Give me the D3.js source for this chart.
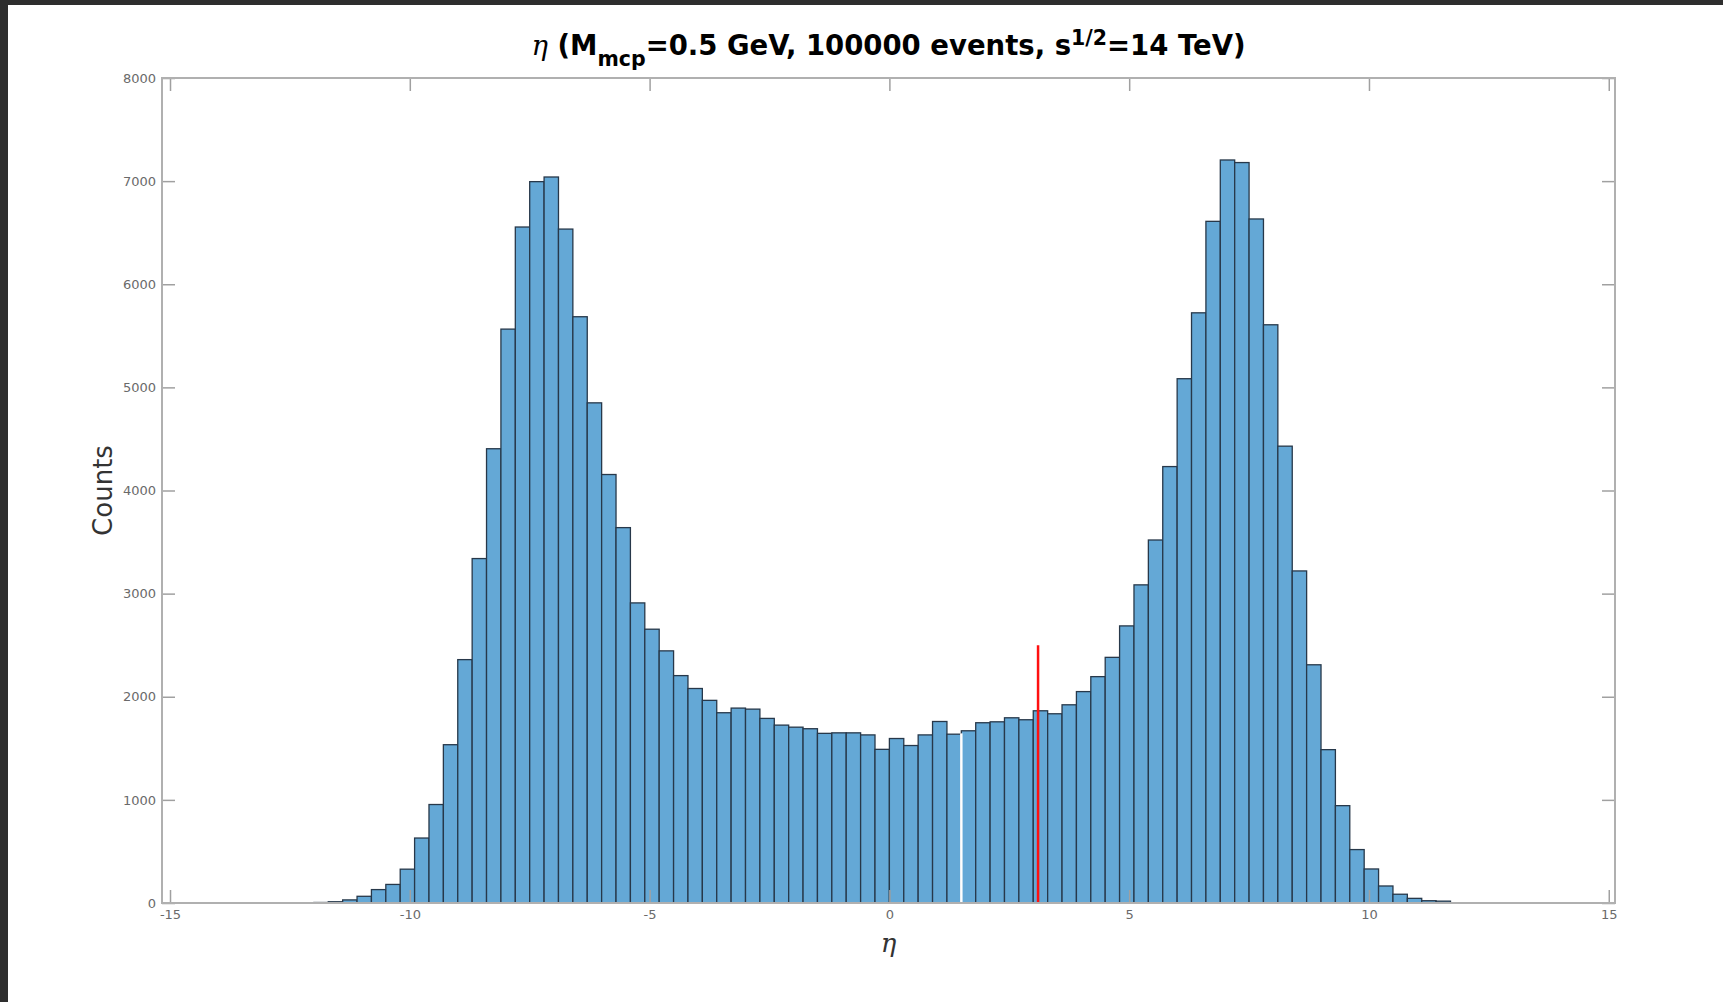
<!DOCTYPE html>
<meta charset="utf-8">
<title>eta histogram</title>
<style>
  body { margin: 0; background: #fff; }
  svg { display: block; }
</style>
<body>
<svg width="1723" height="1002"></svg>
<script src="https://d3js.org/d3.v7.min.js"></script>
<script>

// histogram: first bin edge and bin width (eta units)
var binStart = -12.0,
    binWidth = 0.3;

// counts per bin, left to right
var counts = [
  5, 12, 30, 65, 130, 180, 328, 630, 955, 1535,
  2360, 3340, 4405, 5565, 6555, 6995, 7040, 6535, 5685, 4850,
  4155, 3640, 2910, 2655, 2445, 2205, 2080, 1965, 1845, 1890,
  1880, 1790, 1725, 1705, 1690, 1645, 1650, 1650, 1630, 1490,
  1595, 1527, 1630, 1760, 1637, 1670, 1748, 1757, 1796, 1777,
  1864, 1835, 1922, 2050, 2195, 2382, 2687, 3085, 3520, 4232,
  5084, 5723, 6610, 7205, 7180, 6633, 5607, 4430, 3220, 2310,
  1487, 944, 518, 330, 165, 85, 45, 22, 18
];

// marker lines: [eta, height]
var whiteLine = [1.5, 1645];
var redLine = [3.1, 2500];

var xTicks = [-15, -10, -5, 0, 5, 10, 15];
var yTicks = [0, 1000, 2000, 3000, 4000, 5000, 6000, 7000, 8000];

var svg = d3.select("svg");

// dark frame at top and left
svg.append("rect").attr("x", 0).attr("y", 0).attr("width", 1723).attr("height", 5).attr("fill", "#2e2e2e");
svg.append("rect").attr("x", 0).attr("y", 0).attr("width", 8).attr("height", 1002).attr("fill", "#2e2e2e");

var pLeft = 162, pRight = 1615, pTop = 78, pBottom = 903;

var x = d3.scaleLinear()
    .domain([-15.167, 15.13])
    .range([pLeft, pRight]);

var y = d3.scaleLinear()
    .domain([0, 8000])
    .range([pBottom, pTop]);

// bars
svg.append("g")
  .selectAll("rect")
  .data(counts)
  .enter().append("rect")
    .attr("x", function(d, i) { return x(binStart + i * binWidth); })
    .attr("width", function(d, i) { return x(binStart + (i + 1) * binWidth) - x(binStart + i * binWidth); })
    .attr("y", function(d) { return y(d); })
    .attr("height", function(d) { return y(0) - y(d); })
    .attr("fill", "#64a8d6")
    .attr("stroke", "#27384a")
    .attr("stroke-width", 1.3);

// marker lines
svg.append("line")
    .attr("x1", x(whiteLine[0])).attr("x2", x(whiteLine[0]))
    .attr("y1", y(0)).attr("y2", y(whiteLine[1]))
    .attr("stroke", "#ffffff").attr("stroke-width", 2.5);

svg.append("line")
    .attr("x1", x(redLine[0])).attr("x2", x(redLine[0]))
    .attr("y1", y(0)).attr("y2", y(redLine[1]))
    .attr("stroke", "#ff1010").attr("stroke-width", 2.5);

// axes, ticks pointing inward
function styleAxis(g) {
  g.select(".domain").remove();
  g.selectAll(".tick line").attr("stroke", "#a0a0a0").attr("stroke-width", 1.5);
  g.selectAll(".tick text")
    .attr("fill", "#6a6a6a")
    .style("font-family", "DejaVu Sans")
    .style("font-size", "13px");
}

svg.append("g")
    .attr("transform", "translate(0," + pBottom + ")")
    .call(d3.axisBottom(x).tickValues(xTicks).tickSize(-13).tickPadding(7).tickFormat(function(d) { return String(d); }))
    .call(styleAxis);

svg.append("g")
    .attr("transform", "translate(0," + pTop + ")")
    .call(d3.axisTop(x).tickValues(xTicks).tickSize(-13).tickFormat(""))
    .call(styleAxis);

svg.append("g")
    .attr("transform", "translate(" + pLeft + ",0)")
    .call(d3.axisLeft(y).tickValues(yTicks).tickSize(-13).tickPadding(6).tickFormat(function(d) { return String(d); }))
    .call(styleAxis);

svg.append("g")
    .attr("transform", "translate(" + pRight + ",0)")
    .call(d3.axisRight(y).tickValues(yTicks).tickSize(-13).tickFormat(""))
    .call(styleAxis);

// box
svg.append("rect")
    .attr("x", pLeft).attr("y", pTop)
    .attr("width", pRight - pLeft).attr("height", pBottom - pTop)
    .attr("fill", "none")
    .attr("stroke", "#b0b0b0")
    .attr("stroke-width", 2);

// title
var title = svg.append("text")
    .attr("x", (pLeft + pRight) / 2)
    .attr("y", 55)
    .attr("text-anchor", "middle")
    .style("font-family", "DejaVu Sans")
    .style("font-weight", "bold")
    .style("font-size", "27.5px")
    .attr("fill", "#000");
title.append("tspan").style("font-family", "DejaVu Serif").style("font-style", "italic").style("font-weight", "normal").text("η");
title.append("tspan").text(" (M");
title.append("tspan").attr("dy", 11).style("font-size", "20.5px").text("mcp");
title.append("tspan").attr("dy", -11).text("=0.5 GeV, 100000 events, s");
title.append("tspan").attr("dy", -10).style("font-size", "20.5px").text("1/2");
title.append("tspan").attr("dy", 10).text("=14 TeV)");

// axis labels
svg.append("text")
    .attr("x", (pLeft + pRight) / 2)
    .attr("y", 952)
    .attr("text-anchor", "middle")
    .style("font-family", "DejaVu Serif")
    .style("font-style", "italic")
    .style("font-size", "26px")
    .attr("fill", "#333")
    .text("η");

svg.append("text")
    .attr("transform", "translate(112," + ((pTop + pBottom) / 2) + ")rotate(-90)")
    .attr("text-anchor", "middle")
    .style("font-family", "DejaVu Sans")
    .style("font-size", "26px")
    .attr("fill", "#333")
    .text("Counts");

</script>
</body>
